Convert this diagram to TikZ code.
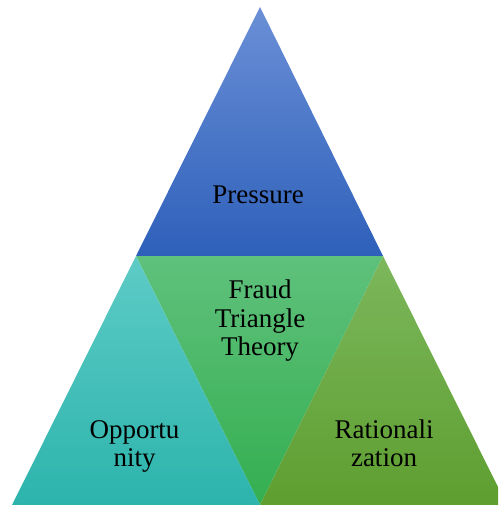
\documentclass[tikz,border=0pt]{standalone}
\usepackage{fontspec}
\setmainfont{Liberation Serif}
\begin{document}
\begin{tikzpicture}[x=1pt,y=-1pt,
  lbl/.style={font=\fontsize{27}{28}\selectfont, text=black, inner sep=0pt, anchor=base}]
\useasboundingbox (0,0) rectangle (498,505);
\coordinate (A) at (260,7);
\coordinate (L) at (136,256);
\coordinate (R) at (383,256);
\coordinate (BL) at (12,505);
\coordinate (BM) at (260,505);
\coordinate (BR) at (507,505);
\begin{scope}
\clip (0,0) rectangle (498,505);
\shade[top color={rgb,255:red,106;green,143;blue,214}, bottom color={rgb,255:red,46;green,96;blue,186}] (A) -- (R) -- (L) -- cycle;
\shade[top color={rgb,255:red,95;green,193;blue,124}, bottom color={rgb,255:red,52;green,174;blue,80}] (L) -- (R) -- (BM) -- cycle;
\shade[top color={rgb,255:red,94;green,203;blue,198}, bottom color={rgb,255:red,44;green,180;blue,172}] (L) -- (BM) -- (BL) -- cycle;
\shade[top color={rgb,255:red,124;green,183;blue,92}, bottom color={rgb,255:red,94;green,158;blue,48}] (R) -- (BR) -- (BM) -- cycle;
\end{scope}
\node[lbl] (p) at (258,203) {Pressure};
\node[lbl] (f1) at (260,298.5) {Fraud};
\node[lbl] (f2) at (260,327) {Triangle};
\node[lbl] (f3) at (260,355.5) {Theory};
\node[lbl] (o1) at (134.5,438.5) {Opportu};
\node[lbl] (o2) at (134.5,466.5) {nity};
\node[lbl] (r1) at (384,438.5) {Rationali};
\node[lbl] (r2) at (384,466.5) {zation};
\end{tikzpicture}
\end{document}
